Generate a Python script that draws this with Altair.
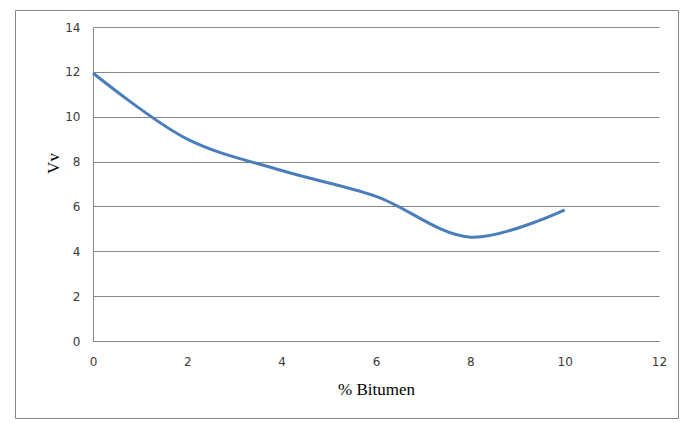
import altair as alt
import pandas as pd

bitumen = [0, 2, 4, 6, 8, 10]
vv = [11.95, 9.0, 7.6, 6.45, 4.63, 5.85]
x_ticks = [0, 2, 4, 6, 8, 10, 12]
y_ticks = [0, 2, 4, 6, 8, 10, 12, 14]

df = pd.DataFrame({"bitumen": bitumen, "vv": vv})

W, H = 566, 314
GRAY = "#868686"
LABEL = "#3a3a3a"

line = alt.Chart(df).mark_line(
    interpolate="catmull-rom", color="#4A7EBB", strokeWidth=3
).encode(
    x=alt.X(
        "bitumen:Q",
        scale=alt.Scale(domain=[0, 12], nice=False),
        axis=alt.Axis(
            values=x_ticks, title="% Bitumen", grid=False, ticks=False,
            labelFlush=False, labelPadding=15, domainColor=GRAY, domainWidth=1,
            labelColor=LABEL, labelFont="DejaVu Sans", labelFontSize=12,
            titleFont="Liberation Serif", titleFontSize=17, titleFontWeight="normal",
            titleColor="#000000", titleY=53, titleBaseline="alphabetic",
        ),
    ),
    y=alt.Y(
        "vv:Q",
        scale=alt.Scale(domain=[0, 14], nice=False),
        axis=alt.Axis(
            values=y_ticks, title="Vv", grid=True, gridColor=GRAY, gridWidth=1,
            gridOpacity=1, ticks=False, labelFlush=False, labelPadding=13,
            domainColor=GRAY, domainWidth=1, labelColor=LABEL,
            labelFont="DejaVu Sans", labelFontSize=12,
            titleFont="Liberation Serif", titleFontSize=17,
            titleFontWeight="normal", titleColor="#000000", titleX=-35,
            titleY=136, titleAlign="center", titleBaseline="alphabetic", titleAngle=270,
        ),
    ),
)

border = alt.Chart(pd.DataFrame({"a": [0]})).mark_rect(
    fill="transparent", stroke=GRAY, strokeWidth=1
).encode(
    x=alt.value(-77.5), x2=alt.value(585.5), y=alt.value(-16.5), y2=alt.value(391.5)
)

chart = alt.layer(border, line).properties(
    width=W,
    height=H,
    padding={"left": 85, "top": 19, "right": 20, "bottom": 80},
    autosize=alt.AutoSizeParams(type="none"),
).configure_view(strokeWidth=0)

chart.save("out.html", embed_options={"renderer": "svg", "actions": False})
